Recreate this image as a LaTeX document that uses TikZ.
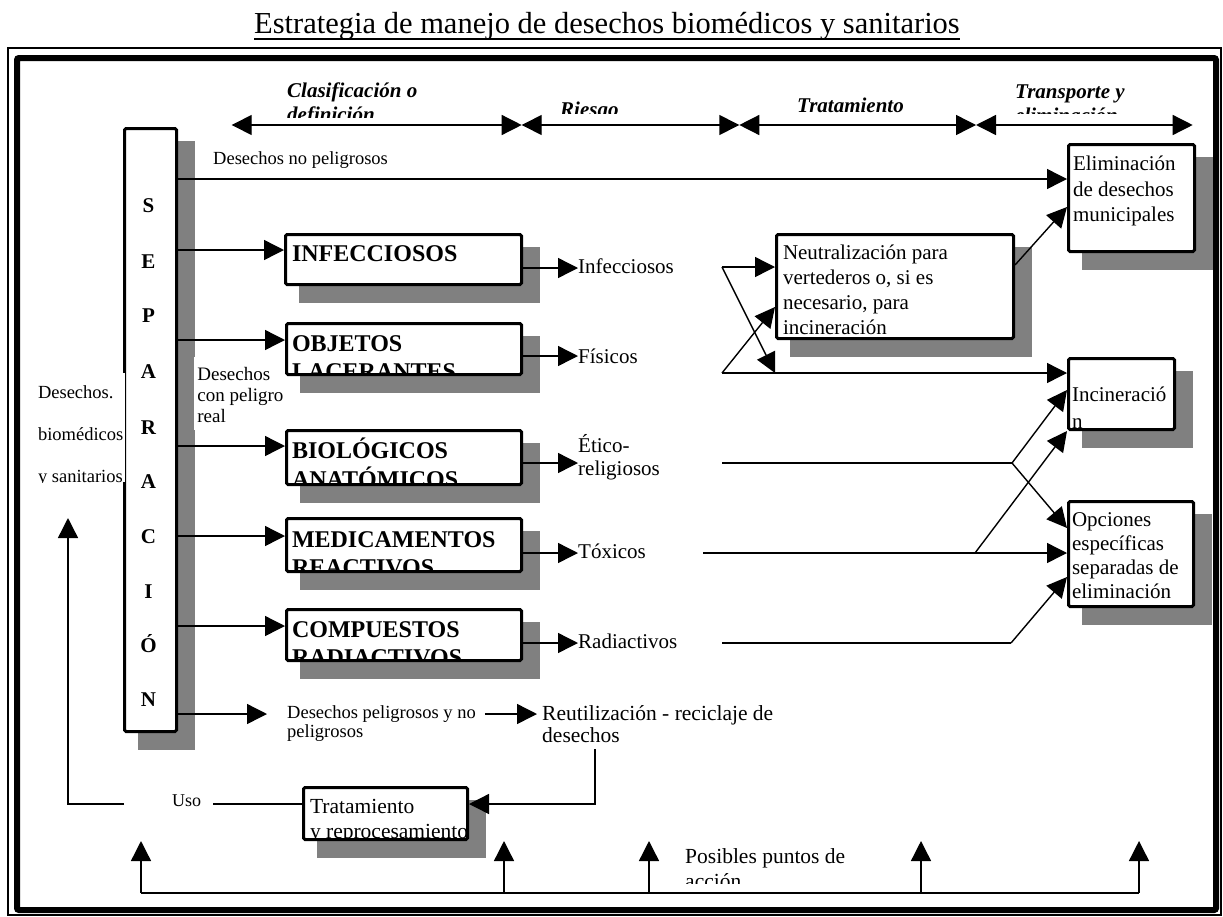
\documentclass[tikz,border=0pt]{standalone}
\usepackage{fontspec}
\setmainfont{Liberation Serif}
\usetikzlibrary{arrows.meta}
\definecolor{shgray}{HTML}{808080}
\newcommand{\fs}[2]{\fontsize{#1}{#2}\selectfont}
% top-aligned block of lines: baseline = first line
\newcommand{\tl}[1]{\begin{tabular}[t]{@{}l@{}}#1\end{tabular}}
% name, x1, y1, x2, y2, text x offset, first baseline offset, font style, text
\newcommand{\mybox}[9]{%
  \fill[shgray] ({#2+15},{#3+14}) rectangle ({#4+20},{#5+20});
  \node[bx, minimum width={(#4-#2)*1pt}, minimum height={(#5-#3)*1pt},
    path picture={\node[draw=none, fill=none, anchor=base west, inner sep=0pt,
      minimum width=0pt, minimum height=0pt, #8]
      at ([shift={(#6pt,-#7pt)}]path picture bounding box.north west) {\tl{#9}};}]
    (#1) at (#2,#3) {};
}
\tikzset{
  conn/.style={line width=1.4pt},
  arr/.style={conn, -{Triangle[length=20pt,width=20pt]}},
  darr/.style={conn, {Triangle[length=20pt,width=20pt]}-{Triangle[length=20pt,width=20pt]}},
  bx/.style={draw, line width=3pt, fill=white, rounded corners=1.5pt, inner sep=0pt, anchor=north west},
  lbl/.style={inner sep=0pt},
  fbig/.style={font=\fs{24}{28}\bfseries},
  fbox/.style={font=\fs{21}{25}},
  frisk/.style={font=\fs{21}{23}},
  fsmall/.style={font=\fs{18.5}{19}},
  fhdr/.style={font=\fs{21}{24}\bfseries\itshape},
  fsep/.style={font=\fs{21}{22}\bfseries},
}
\begin{document}
\begin{tikzpicture}[x=1pt,y=-1pt]
\useasboundingbox (0,0) rectangle (1223,916);
% frame
\draw[line width=1.3pt] (8,48) rectangle (1221,915);
\draw[line width=6pt, rounded corners=2pt] (17,58) rectangle (1216,910);
% title
\node[font=\fs{30.5}{34}, anchor=base, inner sep=0pt] (title) at (607,33)
  {Estrategia de manejo de desechos biomédicos y sanitarios};
\draw[line width=1.8pt] ([yshift=-6pt]title.base west) -- ([yshift=-6pt]title.base east);
% headers
\begin{scope}
\clip (270,70) rectangle (480,117);
\node[lbl, fhdr, anchor=base west] (hcla) at (287,97) {\tl{Clasificación o\\definición}};
\end{scope}
\begin{scope}
\clip (540,70) rectangle (660,113);
\node[lbl, fhdr, anchor=base west] (hrie) at (560,116) {Riesgo};
\end{scope}
\begin{scope}
\clip (780,70) rectangle (930,112);
\node[lbl, fhdr, anchor=base west] (htra) at (797,112.5) {Tratamiento};
\end{scope}
\begin{scope}
\clip (1000,70) rectangle (1180,113);
\node[lbl, fhdr, anchor=base west] (htre) at (1015,98) {\tl{Transporte y\\eliminación}};
\end{scope}
\coordinate (a0) at (231.7,125);
\coordinate (a1) at (521.7,125);
\coordinate (a2) at (739.3,125);
\coordinate (a3) at (976,125);
\coordinate (a4) at (1192.7,125);
\draw[darr] (a0) -- (a1);
\draw[darr] (a1) -- (a2);
\draw[darr] (a2) -- (a3);
\draw[darr] (a3) -- (a4);
% SEPARACION
\mybox{sep}{123}{127}{175}{730}{0}{0}{}{}
\foreach \l/\y [count=\i] in {S/206,E/262,P/316,A/372,R/428,A/482,C/537,I/592,Ó/646,N/700}
  \node[fsep, anchor=base, inner sep=0pt] (sl\i) at (148.5,\y+6.8) {\l};
% category boxes
\mybox{infec}{284}{233}{520}{283}{5}{27}{fbig}{INFECCIOSOS}
\mybox{objet}{285}{322}{520}{373}{4}{28}{fbig}{OBJETOS\\LACERANTES}
\mybox{biol}{285}{429}{520}{483}{4}{28}{fbig}{BIOLÓGICOS\\ANATÓMICOS}
\mybox{medic}{285}{517}{520}{570}{4}{29}{fbig}{MEDICAMENTOS\\REACTIVOS}
\mybox{comp}{285}{608}{520}{659}{4}{28}{fbig}{COMPUESTOS\\RADIACTIVOS}
% treatment / disposal boxes
\mybox{neut}{775}{233}{1012}{337}{5}{25}{fbox}{Neutralización para\\vertederos o, si es\\necesario, para\\incineración}
\mybox{elim}{1067}{143}{1193}{250}{3}{26}{font=\fs{21}{25.5}}{Eliminación\\de desechos\\municipales}
\mybox{incin}{1067}{357}{1173}{428}{2}{43}{font=\fs{21}{27}}{Incineració\\n}
\mybox{opc}{1067}{500}{1192}{605}{2}{25}{font=\fs{21}{24}}{Opciones\\específicas\\separadas de\\eliminación}
\mybox{trat}{302}{786}{466}{838}{5}{26}{font=\fs{21.5}{25}}{Tratamiento\\y reprocesamiento}
% left labels
\node[fill=white, inner sep=0pt, anchor=north west, minimum width=96.5pt, minimum height=109pt,
  path picture={\node[lbl, font=\fs{18.5}{42}, anchor=base west]
    at ([shift={(4pt,-25pt)}]path picture bounding box.north west) {\tl{Desechos.\\biomédicos\\y sanitarios}};}]
  (lbio) at (28,373) {};
\node[fill=white, inner sep=0pt, anchor=north west, minimum width=90pt, minimum height=73pt,
  path picture={\node[lbl, font=\fs{19}{21}, anchor=base west]
    at ([shift={(1pt,-23pt)}]path picture bounding box.north west) {\tl{Desechos\\con peligro\\real}};}]
  (lpel) at (194,357) {};
\node[lbl, fsmall, anchor=base west] (lnp) at (213,164) {Desechos no peligrosos};
% risk labels
\node[lbl, frisk, anchor=base west] (rinf) at (578,273) {Infecciosos};
\node[lbl, frisk, anchor=base west] (rfis) at (578,363) {Físicos};
\node[lbl, frisk, anchor=base west] (reti) at (578,452) {\tl{Ético-\\religiosos}};
\node[lbl, frisk, anchor=base west] (rtox) at (578,558) {Tóxicos};
\node[lbl, frisk, anchor=base west] (rrad) at (578,648) {Radiactivos};
% bottom labels
\node[lbl, fsmall, anchor=base west] (dpn) at (287,718) {\tl{Desechos peligrosos y no\\peligrosos}};
\node[lbl, font=\fs{21.5}{22}, anchor=base west] (reut) at (542,720) {\tl{Reutilización - reciclaje de\\desechos}};
\node[lbl, font=\fs{18}{20}, anchor=base west] (uso) at (172,806) {Uso};
\begin{scope}
\clip (680,830) rectangle (900,883);
\node[lbl, font=\fs{21.5}{25}, anchor=base west] (pos) at (685,863) {\tl{Posibles puntos de\\acción}};
\end{scope}
% connectors from separation
\draw[arr] (sep.east |- 0,179) -- (elim.west |- 0,179);
\draw[arr] (sep.east |- 0,250) -- (infec.west |- 0,250);
\draw[arr] (sep.east |- 0,340) -- (objet.west |- 0,340);
\draw[arr] (sep.east |- 0,446) -- (biol.west |- 0,446);
\draw[arr] (sep.east |- 0,536) -- (medic.west |- 0,536);
\draw[arr] (sep.east |- 0,626) -- (comp.west |- 0,626);
% boxes to risk
\draw[arr] (infec.east |- 0,268) -- (rinf.west |- 0,268);
\draw[arr] (objet.east |- 0,356) -- (rfis.west |- 0,356);
\draw[arr] (biol.east |- 0,463) -- (reti.west |- 0,463);
\draw[arr] (medic.east |- 0,553) -- (rtox.west |- 0,553);
\draw[arr] (comp.east |- 0,643) -- (rrad.west |- 0,643);
% treatment routing
\coordinate (iA) at (722,267);
\coordinate (fB) at (722,373);
\coordinate (mg) at (775,373);
\draw[arr] (iA) -- (neut.west |- iA);
\draw[arr] (iA) -- (mg);
\draw[arr] (fB) -- (incin.west |- fB);
\draw[arr] (fB) -- (neut.west |- 0,307);
\draw[arr] (neut.east |- 0,265) -- (elim.west |- 0,207);
\coordinate (eA) at (722,463);
\coordinate (eB) at (1012,463);
\draw[conn] (eA) -- (eB);
\draw[arr] (eB) -- (incin.west |- 0,390);
\draw[arr] (eB) -- (opc.west |- 0,528);
\coordinate (tA) at (703,553);
\coordinate (tB) at (975,553);
\draw[arr] (tA) -- (opc.west |- tA);
\draw[arr] (tB) -- (incin.south west);
\coordinate (rA) at (722,643);
\coordinate (rB) at (1011,643);
\draw[conn] (rA) -- (rB);
\draw[arr] (rB) -- (opc.west |- 0,577);
% bottom flow
\draw[arr, shorten >=20pt] (sep.east |- 0,714) -- (dpn.west |- 0,714);
\draw[arr, shorten <=9pt, shorten >=5pt] (dpn.east |- 0,714) -- (reut.west |- 0,714);
\coordinate (rdown) at (595,749);
\draw[arr] (rdown) |- (trat.east |- 0,804);
\coordinate (usotip) at (68,518);
\draw[conn, shorten >=12pt] (trat.west |- 0,804) -- (uso.east |- 0,804);
\draw[arr, shorten <=48pt] (uso.west |- 0,804) -- (68,804) -- (usotip);
% possible action points
\foreach \x [count=\i] in {141,504,649,921,1139} {
  \coordinate (b\i) at (\x,893);
  \coordinate (t\i) at (\x,841);
}
\draw[conn] (b1) -- (b5);
\foreach \i in {1,...,5} \draw[arr] (b\i) -- (t\i);
\end{tikzpicture}
\end{document}
